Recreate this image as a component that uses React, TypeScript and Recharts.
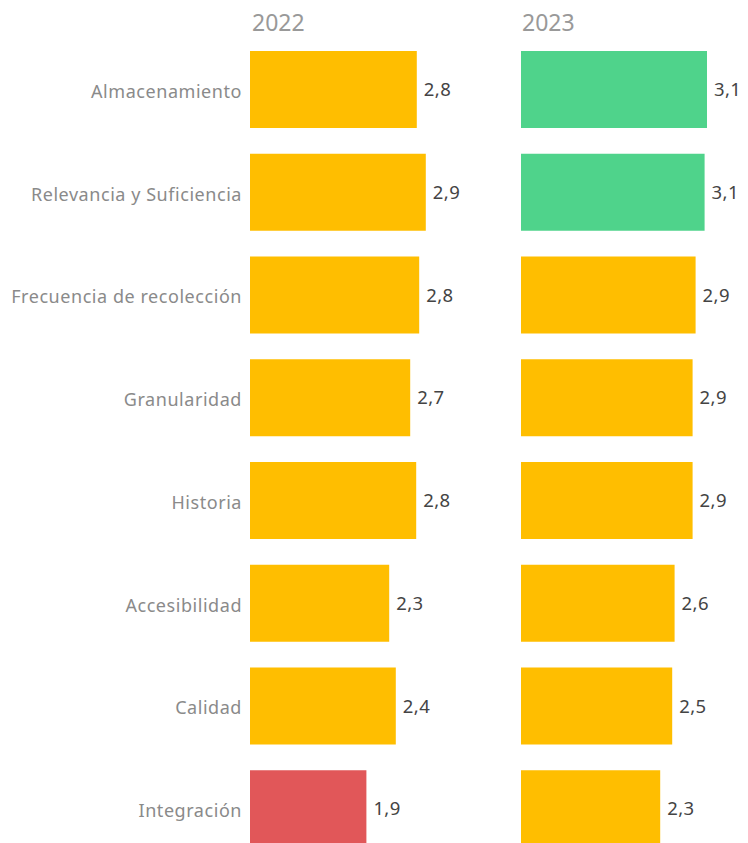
import React from "react";
import { BarChart, Bar, XAxis, YAxis, Cell, LabelList } from "recharts";

const categories = [
  "Almacenamiento",
  "Relevancia y Suficiencia",
  "Frecuencia de recolección",
  "Granularidad",
  "Historia",
  "Accesibilidad",
  "Calidad",
  "Integración",
];
const values2022 = [2.78, 2.93, 2.82, 2.67, 2.77, 2.32, 2.43, 1.94];
const values2023 = [3.1, 3.06, 2.91, 2.86, 2.86, 2.56, 2.52, 2.32];
const years = ["2022", "2023"];

const FONT = "'Noto Sans', sans-serif";
const colorFor = (v: number) => (v >= 3 ? "#4FD38B" : v < 2 ? "#E15759" : "#FFBE00");
const fmt = (v: any) => Number(v).toFixed(1).replace(".", ",");

const data2022 = categories.map((name, i) => ({ name, value: values2022[i] }));
const data2023 = categories.map((name, i) => ({ name, value: values2023[i] }));

const CHART_H = 860;
const MARGIN = { top: 38, right: 0, bottom: 0, left: 0 };

function Panel({ data, width, yWidth, domainMax, showLabels }: any) {
  return (
    <BarChart
      width={width}
      height={CHART_H}
      data={data}
      layout="vertical"
      margin={MARGIN}
      barCategoryGap={13}
    >
      <XAxis type="number" hide domain={[0, domainMax]} />
      <YAxis
        type="category"
        dataKey="name"
        width={yWidth}
        hide={!showLabels}
        axisLine={false}
        tickLine={false}
        interval={0}
        tick={{ fill: "#8a8a8a", fontSize: 18, fontFamily: FONT, letterSpacing: 0.55, dy: 2 }}
      />
      <Bar dataKey="value" isAnimationActive={false}>
        {data.map((d: any, i: number) => (
          <Cell key={i} fill={colorFor(d.value)} />
        ))}
        <LabelList
          dataKey="value"
          position="right"
          offset={7}
          formatter={fmt}
          style={{ fill: "#444", fontSize: 18.5, fontFamily: FONT, letterSpacing: 0.4 }}
        />
      </Bar>
    </BarChart>
  );
}

export default function App() {
  const header: React.CSSProperties = {
    position: "absolute",
    top: 6,
    fontFamily: FONT,
    fontSize: 23,
    color: "#999",
    lineHeight: "32px",
  };
  return (
    <div
      style={{
        position: "absolute",
        left: 0,
        top: 0,
        width: 748,
        height: 843,
        overflow: "hidden",
        background: "#fff",
      }}
    >
      <div style={{ ...header, left: 252 }}>{years[0]}</div>
      <div style={{ ...header, left: 522 }}>{years[1]}</div>
      <div style={{ position: "absolute", left: 0, top: 0 }}>
        <Panel data={data2022} width={520} yWidth={250} domainMax={4.5} showLabels />
      </div>
      <div style={{ position: "absolute", left: 521, top: 0 }}>
        <Panel data={data2023} width={227} yWidth={0} domainMax={227 / 60} showLabels={false} />
      </div>
    </div>
  );
}
